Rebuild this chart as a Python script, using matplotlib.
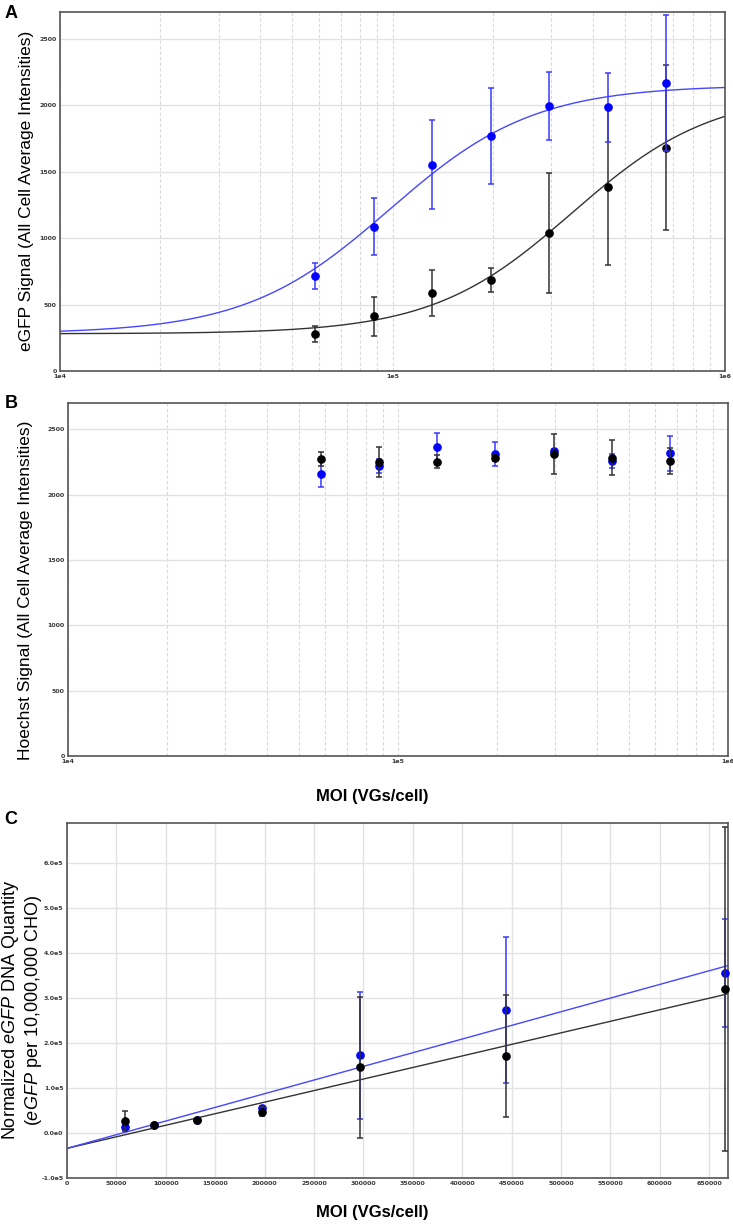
import numpy as np
import matplotlib
matplotlib.use("Agg")
import matplotlib.pyplot as plt
from matplotlib.ticker import FixedLocator, LogLocator, NullFormatter, FixedFormatter

plt.rcParams['font.family'] = ['Liberation Sans', 'DejaVu Sans']
plt.rcParams['mathtext.fontset'] = 'custom'
plt.rcParams['mathtext.rm'] = 'Liberation Sans'
plt.rcParams['mathtext.it'] = 'Liberation Sans:italic'

# ---------------- data ----------------
moi = [58500, 87750, 131625, 197438, 296156, 444234, 666352]

egfp_blue = [713, 1084, 1553, 1770, 1993, 1983, 2166]
egfp_blue_err = [97, 215, 333, 360, 255, 260, 515]
egfp_black = [279, 412, 585, 685, 1039, 1383, 1679]
egfp_black_err = [63, 147, 173, 93, 453, 585, 620]

# 4-parameter logistic fits: bottom, top, EC50, hill
fit_blue = (280, 2150, 98000, 2.0)
fit_black = (280, 2100, 347000, 2.06)

hoechst_blue = [2158, 2217, 2362, 2309, 2331, 2258, 2316]
hoechst_blue_err = [100, 55, 107, 93, 20, 55, 135]
hoechst_black = [2270, 2252, 2252, 2281, 2309, 2283, 2258]
hoechst_black_err = [52, 115, 47, 25, 153, 132, 100]

dna_blue = [13000, 18500, 30000, 56000, 173000, 274000, 356000]
dna_blue_err = [5000, 2000, 2000, 5000, 142000, 163000, 121000]
dna_black = [26000, 17000, 30000, 47000, 146000, 172000, 320000]
dna_black_err = [22000, 2000, 2000, 10000, 157000, 136000, 360000]

# linear fits: slope, intercept
lin_blue = (0.608, -34000)
lin_black = (0.514, -34000)

ab_yticks = [0, 500, 1000, 1500, 2000, 2500]
ab_yticklabels = ['0', '500', '1000', '1500', '2000', '2500']
log_xticks = [1e4, 1e5, 1e6]
log_xticklabels = ['1e4', '1e5', '1e6']
c_xticks = [0, 50000, 100000, 150000, 200000, 250000, 300000, 350000,
            400000, 450000, 500000, 550000, 600000, 650000]
c_xticklabels = ['0', '50000', '100000', '150000', '200000', '250000', '300000',
                 '350000', '400000', '450000', '500000', '550000', '600000', '650000']
c_yticks = [-1e5, 0, 1e5, 2e5, 3e5, 4e5, 5e5, 6e5]
c_yticklabels = ['-1.0e5', '0.0e0', '1.0e5', '2.0e5', '3.0e5', '4.0e5', '5.0e5', '6.0e5']

# ---------------- style ----------------
BLUE = '#0000ff'
BLUE_LINE = '#4646ff'
BLUE_ERR = '#3a3aff'
BLACK = '#000000'
BLACK_LINE = '#333333'
BLACK_ERR = '#333333'
GRID = '#e2e2e2'
SPINE = '#555555'
TICKC = '#3a3a3a'

W, H = 733, 1225
fig = plt.figure(figsize=(W / 100, H / 100), dpi=100)


def box(l, r, t, b):
    return [l / W, 1 - b / H, (r - l) / W, (b - t) / H]


def style_axes(ax):
    for s in ax.spines.values():
        s.set_color(SPINE)
        s.set_linewidth(1.2)
    ax.tick_params(which='both', length=0, labelsize=4.5, labelcolor=TICKC, pad=2.5)
    for lab in ax.get_xticklabels() + ax.get_yticklabels():
        lab.set_fontfamily('DejaVu Sans')
        lab.set_fontweight('bold')
    ax.set_axisbelow(True)


def logistic(x, p):
    bottom, top, ec50, hill = p
    return bottom + (top - bottom) / (1 + (ec50 / x) ** hill)


def log_axes(ax):
    ax.set_xscale('log')
    ax.set_xlim(1e4, 1e6)
    ax.set_ylim(0, 2700)
    ax.xaxis.set_major_locator(FixedLocator(log_xticks))
    ax.xaxis.set_major_formatter(FixedFormatter(log_xticklabels))
    ax.xaxis.set_minor_locator(LogLocator(base=10, subs=np.arange(2, 10)))
    ax.xaxis.set_minor_formatter(NullFormatter())
    ax.yaxis.set_major_locator(FixedLocator(ab_yticks))
    ax.yaxis.set_major_formatter(FixedFormatter(ab_yticklabels))
    ax.grid(True, which='major', axis='y', color=GRID, lw=1.0, ls='-')
    ax.grid(True, which='both', axis='x', color='#d9d9d9', lw=0.8, ls=(0, (3, 2)))
    style_axes(ax)


eb = dict(fmt='o', ms=5.2, capsize=2.5, elinewidth=1.1, capthick=1.1)

# ---------------- Panel A ----------------
axA = fig.add_axes(box(60, 725, 12, 371))
log_axes(axA)
xs = np.logspace(4, 6, 400)
axA.plot(xs, logistic(xs, fit_black), color=BLACK_LINE, lw=1.0, zorder=2)
axA.plot(xs, logistic(xs, fit_blue), color=BLUE_LINE, lw=1.0, zorder=2)
axA.errorbar(moi, egfp_black, yerr=egfp_black_err, color=BLACK, ecolor=BLACK_ERR, zorder=3, **eb)
axA.errorbar(moi, egfp_blue, yerr=egfp_blue_err, color=BLUE, ecolor=BLUE_ERR, zorder=4, **eb)
fig.text(27 / W, 1 - 191 / H, 'eGFP Signal (All Cell Average Intensities)', rotation=90,
         ha='center', va='center', fontsize=12.5)
fig.text(11 / W, 1 - 14 / H, 'A', fontsize=13, fontweight='bold', ha='center', va='center')

# ---------------- Panel B ----------------
axB = fig.add_axes(box(68, 728, 403, 756))
log_axes(axB)
axB.errorbar(moi, hoechst_blue, yerr=hoechst_blue_err, color=BLUE, ecolor=BLUE_ERR, zorder=3, **eb)
axB.errorbar(moi, hoechst_black, yerr=hoechst_black_err, color=BLACK, ecolor=BLACK_ERR, zorder=4, **eb)
fig.text(26 / W, 1 - 590 / H, 'Hoechst Signal (All Cell Average Intensities)', rotation=90,
         ha='center', va='center', fontsize=12.5)
fig.text(11 / W, 1 - 404 / H, 'B', fontsize=13, fontweight='bold', ha='center', va='center')
fig.text(372 / W, 1 - 797 / H, 'MOI (VGs/cell)', fontsize=12, fontweight='bold',
         ha='center', va='center')

# ---------------- Panel C ----------------
c_xmax = 669000
axC = fig.add_axes(box(67, 728, 823, 1178))
axC.set_xlim(0, c_xmax)
axC.set_ylim(-1e5, 6.9e5)
axC.xaxis.set_major_locator(FixedLocator(c_xticks))
axC.xaxis.set_major_formatter(FixedFormatter(c_xticklabels))
axC.yaxis.set_major_locator(FixedLocator(c_yticks))
axC.yaxis.set_major_formatter(FixedFormatter(c_yticklabels))
axC.grid(True, which='major', color=GRID, lw=1.0, ls='-')
style_axes(axC)
xl = np.linspace(0, c_xmax, 2)
axC.plot(xl, lin_black[0] * xl + lin_black[1], color=BLACK_LINE, lw=1.0, zorder=2)
axC.plot(xl, lin_blue[0] * xl + lin_blue[1], color=BLUE_LINE, lw=1.0, zorder=2)
axC.errorbar(moi, dna_blue, yerr=dna_blue_err, color=BLUE, ecolor=BLUE_ERR, zorder=3,
             clip_on=False, **eb)
axC.errorbar(moi, dna_black, yerr=dna_black_err, color=BLACK, ecolor=BLACK_ERR, zorder=4,
             clip_on=False, **eb)
fig.text(22 / W, 1 - 1010 / H,
         'Normalized $\\it{eGFP}$ DNA Quantity\n($\\it{eGFP}$ per 10,000,000 CHO)',
         rotation=90, ha='center', va='center', fontsize=13, linespacing=1.1,
         multialignment='center')
fig.text(11 / W, 1 - 820 / H, 'C', fontsize=13, fontweight='bold', ha='center', va='center')
fig.text(372 / W, 1 - 1212 / H, 'MOI (VGs/cell)', fontsize=12, fontweight='bold',
         ha='center', va='center')

fig.savefig('out.png', dpi=100)
